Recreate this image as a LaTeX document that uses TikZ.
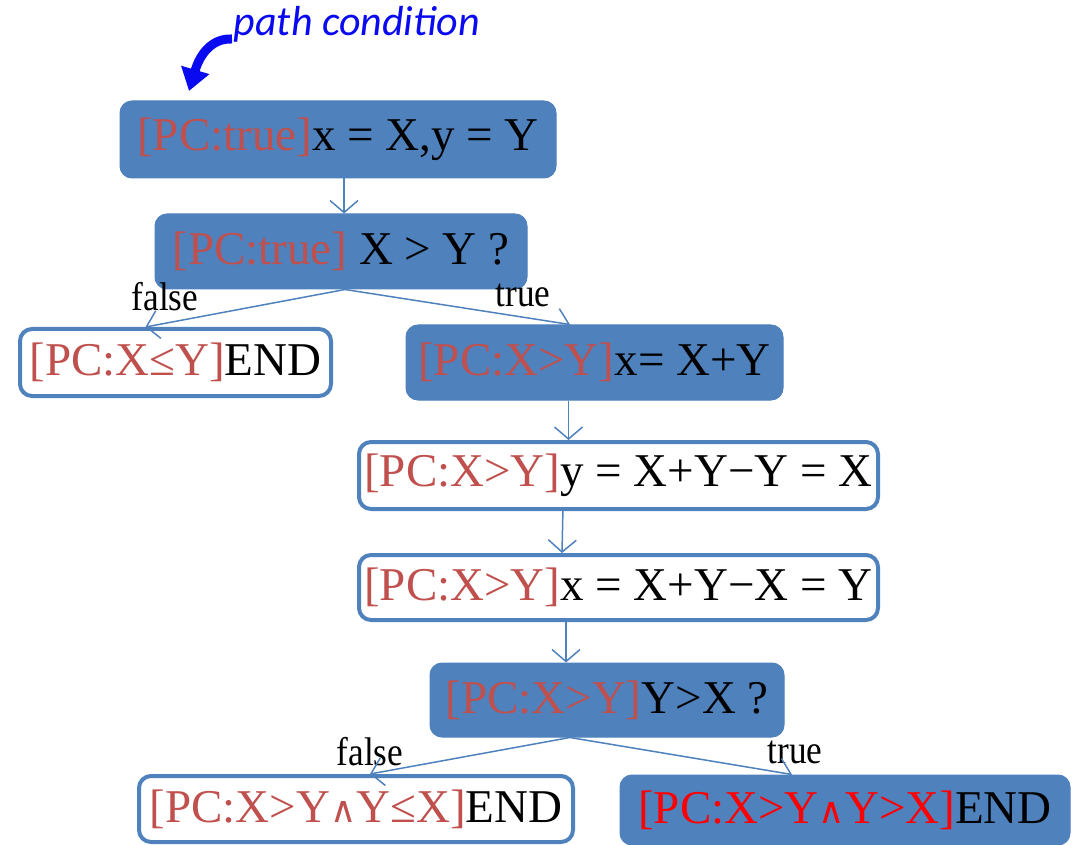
\documentclass[tikz,border=0pt]{standalone}
\usepackage{graphicx}
\usepackage{fontspec}
\setmainfont{Liberation Serif}
\newfontfamily\pcfont{Carlito}
\newfontfamily\dvs{DejaVu Serif}
\usetikzlibrary{arrows.meta,calc}
\definecolor{pblue}{HTML}{4F81BD}
\definecolor{pcred}{HTML}{C0504D}
\definecolor{pathblue}{HTML}{0A0AF0}
\newcommand\pcr[1]{\textcolor{pcred}{#1}}
\newcommand\myand{{\dvs\fontsize{36}{40}\selectfont ∧}}
\newcommand\lbltext[1]{\scalebox{0.88}[1]{#1}}
\begin{document}
\begin{tikzpicture}[x=1pt,y=-1pt,
  boxfont/.style={font=\fontsize{47}{50}\selectfont},
  fillbox/.style={boxfont, rounded corners=12pt, fill=pblue, draw=pblue, line width=1pt, inner sep=0pt},
  linebox/.style={boxfont, rounded corners=12pt, fill=white, draw=pblue, line width=4pt, inner sep=0pt},
  conn/.style={draw=pblue, line width=1.5pt, -{Straight Barb[length=12pt,width=28pt]}},
  lbl/.style={font=\fontsize{40}{42}\selectfont, inner sep=0pt}]
\useasboundingbox (0,0) rectangle (1080,845);

% path condition annotation
\node[font=\pcfont\itshape\fontsize{42}{46}\selectfont, text=pathblue, inner sep=0pt] (PCT) at (357,24) {path condition};
\coordinate (arrS) at (232,39);
\coordinate (arrE) at (189,91);
\draw[pathblue, line width=9pt, -{Triangle[length=22pt,width=28pt]}] (arrS) .. controls (212,38) and (200,54) .. (arrE);

% nodes
\node[fillbox, minimum width=436pt, minimum height=77pt] (A) at (338,139.5) {\pcr{[PC:true]}x = X,y = Y};
\node[fillbox, minimum width=372pt, minimum height=75pt] (B) at (341,251.5) {\pcr{[PC:true]} X > Y ?};
\node[linebox, minimum width=311pt, minimum height=67pt] (C) at (175.5,362.5) {\pcr{[PC:X≤Y]}END};
\node[fillbox, minimum width=377pt, minimum height=75pt] (D) at (594.5,362.5) {\pcr{[PC:X>Y]}x= X+Y};
\node[linebox, minimum width=519pt, minimum height=67pt] (E) at (618.5,475.5) {\pcr{[PC:X>Y]}y = X+Y−Y = X};
\node[linebox, minimum width=519pt, minimum height=65pt] (F) at (618.5,587.5) {\pcr{[PC:X>Y]}x = X+Y−X = Y};
\node[fillbox, minimum width=354pt, minimum height=74pt] (G) at (607,700) {\pcr{[PC:X>Y]}Y>X ?};
\node[linebox, minimum width=434pt, minimum height=66pt] (H) at (356,809) {\pcr{[PC:X>Y\myand Y≤X]}END};
\node[fillbox, minimum width=450pt, minimum height=70pt] (I) at (845,810) {\textcolor{red}{[PC:X>Y\myand Y>X]}END};

% labels
\node[lbl] (f1) at (165,297) {\lbltext{false}};
\node[lbl] (t1) at (523,295) {\lbltext{true}};
\node[lbl] (f2) at (370,752) {\lbltext{false}};
\node[lbl] (t2) at (795,752) {\lbltext{true}};

% connectors
\draw[conn] ([xshift=6pt]A.south) -- ([xshift=3pt]B.north);
\draw[conn] ([xshift=4pt]B.south) -- ([xshift=-30pt]C.north);
\draw[conn] ([xshift=4pt]B.south) -- ([xshift=-24.5pt]D.north);
\draw[conn] ([xshift=-26pt]D.south) -- ([xshift=-50pt]E.north);
\draw[conn] ([xshift=-55.5pt,yshift=4pt]E.south) -- ([xshift=-56.5pt]F.north);
\draw[conn] ([xshift=-52.5pt,yshift=2pt]F.south) -- ([xshift=-41pt]G.north);
\draw[conn] ([xshift=-37pt]G.south) -- ([xshift=14pt]H.north);
\draw[conn] ([xshift=-37pt]G.south) -- ([xshift=-53pt]I.north);
\end{tikzpicture}
\end{document}
